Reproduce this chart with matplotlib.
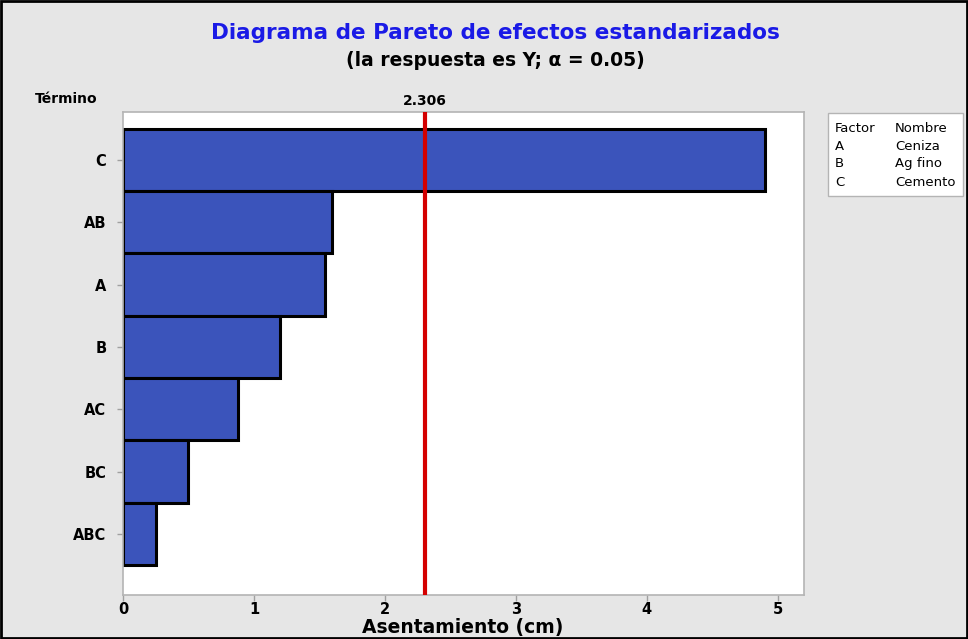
import matplotlib.pyplot as plt
import numpy as np
from matplotlib.patches import Rectangle

terms = ["C", "AB", "A", "B", "AC", "BC", "ABC"]
effects = [4.90, 1.595, 1.54, 1.20, 0.878, 0.496, 0.252]
critical = 2.306
factors = ["A", "B", "C"]
names = ["Ceniza", "Ag fino", "Cemento"]

bg = "#e6e6e6"
fig = plt.figure(figsize=(9.68, 6.39), dpi=100, facecolor=bg)
ax = fig.add_axes([123 / 968, 1 - 595 / 639, (804 - 123) / 968, (595 - 112) / 639])
ax.set_facecolor("white")

y = np.arange(len(terms))
ax.barh(y, effects, height=1.0, color="#3b54bb", edgecolor="black", linewidth=2.2, zorder=2)
ax.axvline(critical, color="#d40000", linewidth=3, zorder=3)
ax.text(critical, -0.83, f"{critical:.3f}", ha="center", va="bottom",
        fontsize=10, fontweight="bold")

ax.set_xlim(0, 5.2)
ax.set_ylim(6.98, -0.77)
ax.set_yticks(y)
ax.set_yticklabels(terms)
ax.set_xticks(range(6))
for lbl in ax.get_xticklabels() + ax.get_yticklabels():
    lbl.set_fontweight("bold")
    lbl.set_fontsize(10.5)
ax.tick_params(axis="both", color="#a0a0a0", length=4, width=1)
ax.tick_params(axis="x", pad=1)
ax.tick_params(axis="y", pad=8)
for s in ax.spines.values():
    s.set_color("#b4b4b4")
    s.set_linewidth(1.2)

fig.text(463 / 968, 1 - 628 / 639, "Asentamiento (cm)", ha="center", va="center",
         fontsize=13.5, fontweight="bold")

fig.text(495 / 968, 1 - 33 / 639, "Diagrama de Pareto de efectos estandarizados",
         ha="center", va="center", fontsize=15.5, fontweight="bold", color="#1a1ae6")
fig.text(495 / 968, 1 - 60 / 639, "(la respuesta es Y; α = 0.05)",
         ha="center", va="center", fontsize=13.5, fontweight="bold", color="black")
fig.text(35 / 968, 1 - 99 / 639, "Término", ha="left", va="center",
         fontsize=10, fontweight="bold")

# legend box with factor names
lx0, ly0, lx1, ly1 = 828, 113, 963, 196
fig.patches.append(Rectangle((lx0 / 968, 1 - ly1 / 639), (lx1 - lx0) / 968, (ly1 - ly0) / 639,
                             transform=fig.transFigure, facecolor="white",
                             edgecolor="#b4b4b4", linewidth=1))
rows = [("Factor", "Nombre")] + list(zip(factors, names))
for i, (f, n) in enumerate(rows):
    yy = 1 - (128 + i * 18) / 639
    fig.text(835 / 968, yy, f, ha="left", va="center", fontsize=9.5)
    fig.text(895 / 968, yy, n, ha="left", va="center", fontsize=9.5)

# outer border
fig.patches.append(Rectangle((0.001, 0.001), 0.998, 0.998, transform=fig.transFigure,
                             facecolor="none", edgecolor="black", linewidth=2))

fig.savefig("out.png", dpi=100, facecolor=bg)
